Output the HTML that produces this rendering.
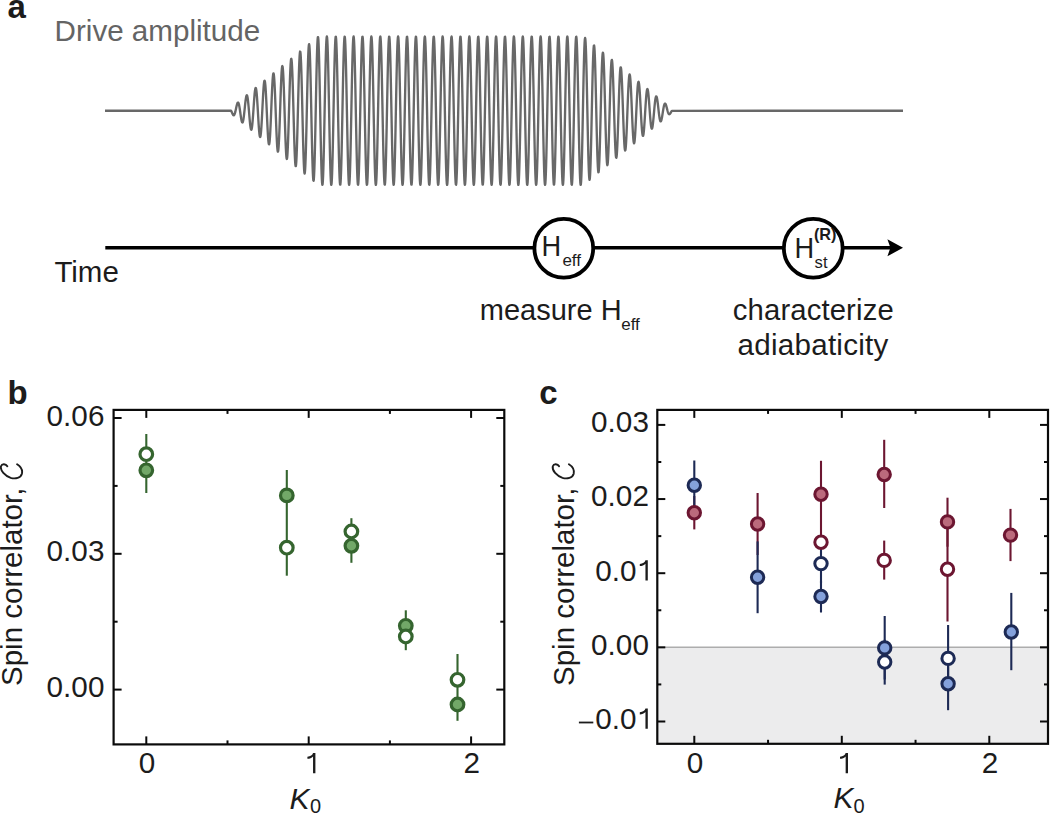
<!DOCTYPE html>
<html><head><meta charset="utf-8"><title>Figure</title>
<style>html,body{margin:0;padding:0;background:#fff;}body{width:1050px;height:814px;overflow:hidden;font-family:"Liberation Sans", sans-serif;}svg{display:block;}</style>
</head><body>
<svg width="1050" height="814" viewBox="0 0 1050 814" font-family='"Liberation Sans", sans-serif'><text x="7.6" y="18.2" font-size="33" font-weight="bold" fill="#1c1c1c">a</text>
<text x="54.6" y="41.4" font-size="29.6" fill="#646464">Drive amplitude</text>
<polyline points="105.00,110.70 231.10,110.70 231.35,111.15 231.60,111.70 231.85,112.28 232.10,112.88 232.35,113.46 232.60,114.01 232.85,114.49 233.10,114.88 233.35,115.14 233.60,115.28 233.85,115.25 234.10,115.06 234.35,114.70 234.60,114.17 234.85,113.47 235.10,112.63 235.35,111.66 235.60,110.58 235.85,109.44 236.10,108.27 236.35,107.10 236.60,105.99 236.85,104.97 237.10,104.08 237.35,103.36 237.60,102.85 237.85,102.57 238.10,102.55 238.35,102.79 238.60,103.31 238.85,104.09 239.10,105.13 239.35,106.40 239.60,107.86 239.85,109.49 240.10,111.22 240.35,113.00 240.60,114.79 240.85,116.51 241.10,118.12 241.35,119.55 241.60,120.74 241.85,121.66 242.10,122.25 242.35,122.50 242.60,122.37 242.85,121.87 243.10,120.98 243.35,119.74 243.60,118.17 243.85,116.31 244.10,114.21 244.35,111.93 244.60,109.54 244.85,107.11 245.10,104.73 245.35,102.47 245.60,100.40 245.85,98.60 246.10,97.14 246.35,96.07 246.60,95.43 246.85,95.26 247.10,95.58 247.35,96.39 247.60,97.67 247.85,99.40 248.10,101.53 248.35,104.01 248.60,106.76 248.85,109.70 249.10,112.75 249.35,115.80 249.60,118.76 249.85,121.54 250.10,124.04 250.35,126.17 250.60,127.86 250.85,129.05 251.10,129.68 251.35,129.73 251.60,129.18 251.85,128.03 252.10,126.31 252.35,124.06 252.60,121.35 252.85,118.24 253.10,114.83 253.35,111.22 253.60,107.53 253.85,103.86 254.10,100.33 254.35,97.07 254.60,94.17 254.85,91.74 255.10,89.86 255.35,88.60 255.60,88.01 255.85,88.13 256.10,88.96 256.35,90.48 256.60,92.67 256.85,95.47 257.10,98.79 257.35,102.55 257.60,106.63 257.85,110.90 258.10,115.24 258.35,119.51 258.60,123.57 258.85,127.30 259.10,130.56 259.35,133.26 259.60,135.29 259.85,136.57 260.10,137.07 260.35,136.75 260.60,135.60 260.85,133.66 261.10,130.97 261.35,127.59 261.60,123.64 261.85,119.22 262.10,114.47 262.35,109.54 262.60,104.56 262.85,99.71 263.10,95.13 263.35,90.97 263.60,87.37 263.85,84.46 264.10,82.32 264.35,81.04 264.60,80.68 264.85,81.25 265.10,82.75 265.35,85.15 265.60,88.38 265.85,92.35 266.10,96.95 266.35,102.04 266.60,107.47 266.85,113.07 267.10,118.67 267.35,124.09 267.60,129.16 267.85,133.72 268.10,137.61 268.35,140.71 268.60,142.91 268.85,144.13 269.10,144.32 269.35,143.46 269.60,141.56 269.85,138.67 270.10,134.88 270.35,130.28 270.60,125.02 270.85,119.24 271.10,113.13 271.35,106.88 271.60,100.67 271.85,94.70 272.10,89.17 272.35,84.24 272.60,80.09 272.85,76.84 273.10,74.62 273.35,73.51 273.60,73.54 273.85,74.73 274.10,77.06 274.35,80.47 274.60,84.86 274.85,90.11 275.10,96.05 275.35,102.52 275.60,109.31 275.85,116.21 276.10,123.02 276.35,129.51 276.60,135.48 276.85,140.74 277.10,145.11 277.35,148.46 277.60,150.65 277.85,151.63 278.10,151.33 278.35,149.76 278.60,146.96 278.85,143.00 279.10,137.99 279.35,132.07 279.60,125.44 279.85,118.27 280.10,110.81 280.35,103.26 280.60,95.88 280.85,88.89 281.10,82.51 281.35,76.95 281.60,72.40 281.85,69.00 282.10,66.86 282.35,66.08 282.60,66.68 282.85,68.66 283.10,71.97 283.35,76.52 283.60,82.18 283.85,88.78 284.10,96.12 284.35,103.98 284.60,112.13 284.85,120.30 285.10,128.24 285.35,135.70 285.60,142.45 285.85,148.27 286.10,152.97 286.35,156.39 286.60,158.41 286.85,158.96 287.10,158.01 287.35,155.58 287.60,151.72 287.85,146.56 288.10,140.23 288.35,132.93 288.60,124.87 288.85,116.31 289.10,107.50 289.35,98.72 289.60,90.24 289.85,82.33 290.10,75.23 290.35,69.19 290.60,64.40 290.85,61.01 291.10,59.14 291.35,58.86 291.60,60.20 291.85,63.13 292.10,67.56 292.35,73.37 292.60,80.39 292.85,88.41 293.10,97.18 293.35,106.45 293.60,115.92 293.85,125.29 294.10,134.29 294.35,142.62 294.60,150.01 294.85,156.24 295.10,161.09 295.35,164.41 295.60,166.08 295.85,166.04 296.10,164.27 296.35,160.81 296.60,155.77 296.85,149.29 297.10,141.56 297.35,132.81 297.60,123.31 297.85,113.35 298.10,103.23 298.35,93.27 298.60,83.79 298.85,75.08 299.10,67.41 299.35,61.04 299.60,56.17 299.85,52.97 300.10,51.55 300.35,51.95 300.60,54.19 300.85,58.21 301.10,63.89 301.35,71.07 301.60,79.53 301.85,89.02 302.10,99.25 302.35,109.90 302.60,120.66 302.85,131.17 303.10,141.12 303.35,150.18 303.60,158.08 303.85,164.55 304.10,169.39 304.35,172.43 304.60,173.57 304.85,172.76 305.10,170.01 305.35,165.39 305.60,159.04 305.85,151.14 306.10,141.94 306.35,131.70 306.60,120.74 306.85,109.40 307.10,98.03 307.35,86.98 307.60,76.60 307.85,67.21 308.10,59.12 308.35,52.59 308.60,47.83 308.85,44.99 309.10,44.18 309.35,45.44 309.60,48.74 309.85,53.99 310.10,61.04 310.35,69.68 310.60,79.65 310.85,90.64 311.10,102.33 311.35,114.34 311.60,126.32 311.85,137.88 312.10,148.66 312.35,158.33 312.60,166.57 312.85,173.12 313.10,177.76 313.35,180.35 313.60,180.78 313.85,179.03 314.10,175.14 314.35,169.23 314.60,161.46 314.85,152.06 315.10,141.32 315.35,129.57 315.60,117.16 315.85,104.48 316.10,91.92 316.35,79.87 316.60,68.72 316.85,58.81 317.10,50.45 317.35,43.93 317.60,39.45 317.85,37.16 318.10,37.15 318.35,39.43 318.60,44.07 318.85,50.84 319.10,59.46 319.35,69.67 319.60,81.15 319.85,93.56 320.10,106.49 320.35,119.55 320.60,132.34 320.85,144.46 321.10,155.53 321.35,165.21 321.60,173.20 321.85,179.24 322.10,183.17 322.35,184.84 322.60,184.21 322.85,181.31 323.10,176.21 323.35,169.08 323.60,160.13 323.85,149.66 324.10,137.97 324.35,125.44 324.60,112.45 324.85,99.41 325.10,86.72 325.35,74.77 325.60,63.94 325.85,54.55 326.10,46.91 326.35,41.25 326.60,37.74 326.85,36.50 327.10,37.56 327.35,40.89 327.60,46.38 327.85,53.87 328.10,63.13 328.35,73.86 328.60,85.73 328.85,98.38 329.10,111.41 329.35,124.41 329.60,137.00 329.85,148.76 330.10,159.35 330.35,168.42 330.60,175.71 330.85,180.98 331.10,184.06 331.35,184.87 331.60,183.38 331.85,179.64 332.10,173.75 332.35,165.91 332.60,156.36 332.85,145.39 333.10,133.34 333.35,120.59 333.60,107.53 333.85,94.58 334.10,82.12 334.35,70.55 334.60,60.22 334.85,51.46 335.10,44.54 335.35,39.67 335.60,37.01 335.85,36.63 336.10,38.55 336.35,42.71 336.60,48.98 336.85,57.16 337.10,67.01 337.35,78.21 337.60,90.41 337.85,103.25 338.10,116.32 338.35,129.22 338.60,141.54 338.85,152.90 339.10,162.95 339.35,171.39 339.60,177.94 339.85,182.40 340.10,184.64 340.35,184.58 340.60,182.24 340.85,177.67 341.10,171.02 341.35,162.51 341.60,152.38 341.85,140.96 342.10,128.61 342.35,115.70 342.60,102.63 342.85,89.81 343.10,77.64 343.35,66.50 343.60,56.73 343.85,48.63 344.10,42.46 344.35,38.41 344.60,36.60 344.85,37.08 345.10,39.86 345.35,44.83 345.60,51.84 345.85,60.68 346.10,71.08 346.35,82.70 346.60,95.19 346.85,108.16 347.10,121.21 347.35,133.94 347.60,145.94 347.85,156.85 348.10,166.33 348.35,174.08 348.60,179.87 348.85,183.51 349.10,184.89 349.35,183.97 349.60,180.77 349.85,175.40 350.10,168.03 350.35,158.87 350.60,148.22 350.85,136.41 351.10,123.80 351.35,110.78 351.60,97.76 351.85,85.14 352.10,73.31 352.35,62.65 352.60,53.47 352.85,46.07 353.10,40.68 353.35,37.46 353.60,36.51 353.85,37.86 354.10,41.48 354.35,47.24 354.60,54.97 354.85,64.43 355.10,75.32 355.35,87.31 355.60,100.03 355.85,113.08 356.10,126.06 356.35,138.56 356.60,150.19 356.85,160.60 357.10,169.46 357.35,176.50 357.60,181.50 357.85,184.30 358.10,184.81 358.35,183.03 358.60,179.00 358.85,172.85 359.10,164.78 359.35,155.03 359.60,143.90 359.85,131.74 360.10,118.93 360.35,105.86 360.60,92.94 360.85,80.58 361.10,69.15 361.35,59.01 361.60,50.47 361.85,43.80 362.10,39.21 362.35,36.83 362.60,36.75 362.85,38.96 363.10,43.40 363.35,49.92 363.60,58.33 363.85,68.37 364.10,79.72 364.35,92.03 364.60,104.92 364.85,117.99 365.10,130.83 365.35,143.05 365.60,154.27 365.85,164.13 366.10,172.33 366.35,178.63 366.60,182.81 366.85,184.76 367.10,184.41 367.35,181.77 367.60,176.93 367.85,170.03 368.10,161.29 368.35,150.99 368.60,139.43 368.85,126.98 369.10,114.02 369.35,100.97 369.60,88.21 369.85,76.15 370.10,65.17 370.35,55.59 370.60,47.73 370.85,41.82 371.10,38.05 371.35,36.53 371.60,37.31 371.85,40.37 372.10,45.62 372.35,52.88 372.60,61.93 372.85,72.50 373.10,84.26 373.35,96.83 373.60,109.84 373.85,122.87 374.10,135.52 374.35,147.41 374.60,158.15 374.85,167.42 375.10,174.94 375.35,180.46 375.60,183.81 375.85,184.90 376.10,183.68 376.35,180.20 376.60,174.57 376.85,166.95 377.10,157.59 377.35,146.77 377.60,134.83 377.85,122.14 378.10,109.10 378.35,96.11 378.60,83.57 378.85,71.88 379.10,61.38 379.35,52.42 379.60,45.27 379.85,40.14 380.10,37.21 380.35,36.55 380.60,38.20 380.85,42.10 381.10,48.12 381.35,56.09 381.60,65.75 381.85,76.80 382.10,88.91 382.35,101.69 382.60,114.75 382.85,127.69 383.10,140.10 383.35,151.60 383.60,161.83 383.85,170.47 384.10,177.26 384.35,181.98 384.60,184.49 384.85,184.71 385.10,182.64 385.35,178.33 385.60,171.92 385.85,163.62 386.10,153.67 386.35,142.39 386.60,130.13 386.85,117.26 387.10,104.19 387.35,91.32 387.60,79.06 387.85,67.77 388.10,57.82 388.35,49.51 388.60,43.09 388.85,38.78 389.10,36.69 389.35,36.90 389.60,39.41 389.85,44.12 390.10,50.90 390.35,59.53 390.60,69.76 390.85,81.25 391.10,93.66 391.35,106.59 391.60,119.66 391.85,132.44 392.10,144.55 392.35,155.61 392.60,165.28 392.85,173.25 393.10,179.28 393.35,183.19 393.60,184.84 393.85,184.20 394.10,181.27 394.35,176.16 394.60,169.01 394.85,160.06 395.10,149.57 395.35,137.88 395.60,125.34 395.85,112.35 396.10,99.31 396.35,86.62 396.60,74.68 396.85,63.85 397.10,54.48 397.35,46.86 397.60,41.21 397.85,37.73 398.10,36.50 398.35,37.58 398.60,40.93 398.85,46.44 399.10,53.94 399.35,63.21 399.60,73.95 399.85,85.83 400.10,98.48 400.35,111.51 400.60,124.52 400.85,137.09 401.10,148.85 401.35,159.43 401.60,168.49 401.85,175.76 402.10,181.01 402.35,184.08 402.60,184.87 402.85,183.36 403.10,179.60 403.35,173.70 403.60,165.84 403.85,156.28 404.10,145.29 404.35,133.24 404.60,120.49 404.85,107.43 405.10,94.47 405.35,82.02 405.60,70.46 405.85,60.14 406.10,51.40 406.35,44.49 406.60,39.64 406.85,37.00 407.10,36.64 407.35,38.57 407.60,42.75 407.85,49.04 408.10,57.23 408.35,67.09 408.60,78.30 408.85,90.52 409.10,103.36 409.35,116.43 409.60,129.32 409.85,141.63 410.10,152.99 410.35,163.03 410.60,171.45 410.85,177.98 411.10,182.43 411.35,184.65 411.60,184.57 411.85,182.21 412.10,177.62 412.35,170.96 412.60,162.43 412.85,152.30 413.10,140.87 413.35,128.51 413.60,115.59 413.85,102.52 414.10,89.71 414.35,77.55 414.60,66.42 414.85,56.66 415.10,48.57 415.35,42.42 415.60,38.38 415.85,36.59 416.10,37.10 416.35,39.89 416.60,44.88 416.85,51.91 417.10,60.76 417.35,71.16 417.60,82.80 417.85,95.29 418.10,108.27 418.35,121.32 418.60,134.04 418.85,146.03 419.10,156.93 419.35,166.40 419.60,174.14 419.85,179.91 420.10,183.53 420.35,184.89 420.60,183.95 420.85,180.74 421.10,175.35 421.35,167.96 421.60,158.79 421.85,148.13 422.10,136.31 422.35,123.69 422.60,110.67 422.85,97.65 423.10,85.04 423.35,73.22 423.60,62.57 423.85,53.41 424.10,46.02 424.35,40.64 424.60,37.44 424.85,36.51 425.10,37.88 425.35,41.51 425.60,47.29 425.85,55.04 426.10,64.51 426.35,75.41 426.60,87.41 426.85,100.14 427.10,113.19 427.35,126.16 427.60,138.65 427.85,150.28 428.10,160.68 428.35,169.53 428.60,176.55 428.85,181.53 429.10,184.31 429.35,184.81 429.60,183.01 429.85,178.96 430.10,172.80 430.35,164.71 430.60,154.94 430.85,143.80 431.10,131.64 431.35,118.82 431.60,105.76 431.85,92.84 432.10,80.48 432.35,69.06 432.60,58.93 432.85,50.41 433.10,43.75 433.35,39.18 433.60,36.82 433.85,36.76 434.10,38.99 434.35,43.44 434.60,49.98 434.85,58.41 435.10,68.46 435.35,79.82 435.60,92.13 435.85,105.03 436.10,118.09 436.35,130.93 436.60,143.15 436.85,154.35 437.10,164.20 437.35,172.39 437.60,178.67 437.85,182.84 438.10,184.77 438.35,184.40 438.60,181.74 438.85,176.88 439.10,169.97 439.35,161.22 439.60,150.90 439.85,139.33 440.10,126.88 440.35,113.92 440.60,100.86 440.85,88.11 441.10,76.06 441.35,65.08 441.60,55.52 441.85,47.67 442.10,41.78 442.35,38.03 442.60,36.53 442.85,37.33 443.10,40.41 443.35,45.67 443.60,52.94 443.85,62.01 444.10,72.59 444.35,84.35 444.60,96.93 444.85,109.94 445.10,122.97 445.35,135.62 445.60,147.50 445.85,158.23 446.10,167.49 446.35,174.99 446.60,180.49 446.85,183.83 447.10,184.90 447.35,183.66 447.60,180.17 447.85,174.51 448.10,166.88 448.35,157.50 448.60,146.68 448.85,134.73 449.10,122.04 449.35,109.00 449.60,96.01 449.85,83.48 450.10,71.79 450.35,61.31 450.60,52.36 450.85,45.22 451.10,40.11 451.35,37.19 451.60,36.56 451.85,38.22 452.10,42.14 452.35,48.18 452.60,56.16 452.85,65.83 453.10,76.90 453.35,89.01 453.60,101.80 453.85,114.86 454.10,127.79 454.35,140.20 454.60,151.69 454.85,161.90 455.10,170.53 455.35,177.30 455.60,182.01 455.85,184.50 456.10,184.70 456.35,182.61 456.60,178.29 456.85,171.86 457.10,163.55 457.35,153.59 457.60,142.30 457.85,130.03 458.10,117.16 458.35,104.09 458.60,91.22 458.85,78.96 459.10,67.69 459.35,57.74 459.60,49.45 459.85,43.05 460.10,38.75 460.35,36.68 460.60,36.92 460.85,39.43 461.10,44.17 461.35,50.96 461.60,59.61 461.85,69.84 462.10,81.35 462.35,93.76 462.60,106.70 462.85,119.76 463.10,132.54 463.35,144.64 463.60,155.70 463.85,165.35 464.10,173.31 464.35,179.32 464.60,183.21 464.85,184.85 465.10,184.18 465.35,181.24 465.60,176.11 465.85,168.95 466.10,159.98 466.35,149.48 466.60,137.78 466.85,125.24 467.10,112.24 467.35,99.20 467.60,86.52 467.85,74.59 468.10,63.77 468.35,54.42 468.60,46.81 468.85,41.18 469.10,37.71 469.35,36.50 469.60,37.60 469.85,40.96 470.10,46.49 470.35,54.01 470.60,63.29 470.85,74.04 471.10,85.93 471.35,98.58 471.60,111.62 471.85,124.62 472.10,137.19 472.35,148.94 472.60,159.51 472.85,168.56 473.10,175.81 473.35,181.04 473.60,184.09 473.85,184.87 474.10,183.34 474.35,179.56 474.60,173.64 474.85,165.77 475.10,156.19 475.35,145.20 475.60,133.14 475.85,120.38 476.10,107.32 476.35,94.37 476.60,81.92 476.85,70.37 477.10,60.07 477.35,51.34 477.60,44.45 477.85,39.61 478.10,36.98 478.35,36.64 478.60,38.60 478.85,42.79 479.10,49.09 479.35,57.31 479.60,67.18 479.85,78.39 480.10,90.62 480.35,103.46 480.60,116.53 480.85,129.42 481.10,141.73 481.35,153.07 481.60,163.10 481.85,171.51 482.10,178.02 482.35,182.45 482.60,184.66 482.85,184.56 483.10,182.18 483.35,177.58 483.60,170.90 483.85,162.36 484.10,152.21 484.35,140.77 484.60,128.40 484.85,115.49 485.10,102.42 485.35,89.61 485.60,77.46 485.85,66.33 486.10,56.58 486.35,48.52 486.60,42.38 486.85,38.36 487.10,36.59 487.35,37.11 487.60,39.92 487.85,44.92 488.10,51.97 488.35,60.84 488.60,71.25 488.85,82.89 489.10,95.39 489.35,108.37 489.60,121.42 489.85,134.14 490.10,146.13 490.35,157.02 490.60,166.47 490.85,174.19 491.10,179.94 491.35,183.55 491.60,184.89 491.85,183.93 492.10,180.70 492.35,175.30 492.60,167.89 492.85,158.71 493.10,148.04 493.35,136.21 493.60,123.59 493.85,110.57 494.10,97.55 494.35,84.94 494.60,73.13 494.85,62.49 495.10,53.34 495.35,45.97 495.60,40.61 495.85,37.42 496.10,36.51 496.35,37.90 496.60,41.55 496.85,47.34 497.10,55.10 497.35,64.59 497.60,75.50 497.85,87.51 498.10,100.24 498.35,113.29 498.60,126.26 498.85,138.75 499.10,150.37 499.35,160.76 499.60,169.59 499.85,176.60 500.10,181.56 500.35,184.32 500.60,184.80 500.85,182.98 501.10,178.92 501.35,172.74 501.60,164.64 501.85,154.86 502.10,143.71 502.35,131.54 502.60,118.72 502.85,105.65 503.10,92.74 503.35,80.39 503.60,68.97 503.85,58.86 504.10,50.35 504.35,43.71 504.60,39.15 504.85,36.81 505.10,36.77 505.35,39.01 505.60,43.49 505.85,50.04 506.10,58.48 506.35,68.54 506.60,79.91 506.85,92.23 507.10,105.13 507.35,118.20 507.60,131.04 507.85,143.24 508.10,154.44 508.35,164.28 508.60,172.45 508.85,178.71 509.10,182.86 509.35,184.77 509.60,184.39 509.85,181.71 510.10,176.84 510.35,169.91 510.60,161.14 510.85,150.81 511.10,139.23 511.35,126.77 511.60,113.81 511.85,100.76 512.10,88.01 512.35,75.97 512.60,65.00 512.85,55.45 513.10,47.62 513.35,41.74 513.60,38.01 513.85,36.52 514.10,37.34 514.35,40.44 514.60,45.72 514.85,53.01 515.10,62.09 515.35,72.68 515.60,84.45 515.85,97.04 516.10,110.05 516.35,123.07 516.60,135.72 516.85,147.59 517.10,158.31 517.35,167.56 517.60,175.04 517.85,180.53 518.10,183.85 518.35,184.90 518.60,183.65 518.85,180.13 519.10,174.46 519.35,166.81 519.60,157.42 519.85,146.58 520.10,134.63 520.35,121.94 520.60,108.89 520.85,95.91 521.10,83.38 521.35,71.70 521.60,61.23 521.85,52.29 522.10,45.17 522.35,40.08 522.60,37.18 522.85,36.56 523.10,38.24 523.35,42.18 523.60,48.23 523.85,56.23 524.10,65.91 524.35,76.99 524.60,89.11 524.85,101.90 525.10,114.96 525.35,127.90 525.60,140.29 525.85,151.77 526.10,161.98 526.35,170.59 526.60,177.35 526.85,182.04 527.10,184.51 527.35,184.70 527.60,182.58 527.85,178.24 528.10,171.81 528.35,163.47 528.60,153.50 528.85,142.20 529.10,129.93 529.35,117.05 529.60,103.98 529.85,91.12 530.10,78.87 530.35,67.60 530.60,57.67 530.85,49.39 531.10,43.01 531.35,38.73 531.60,36.68 531.85,36.93 532.10,39.46 532.35,44.21 532.60,51.02 532.85,59.69 533.10,69.93 533.35,81.44 533.60,93.86 533.85,106.80 534.10,119.86 534.35,132.64 534.60,144.74 534.85,155.78 535.10,165.42 535.35,173.36 535.60,179.36 535.85,183.23 536.10,184.85 536.35,184.17 536.60,181.21 536.85,176.06 537.10,168.88 537.35,159.90 537.60,149.39 537.85,137.68 538.10,125.13 538.35,112.14 538.60,99.10 538.85,86.42 539.10,74.50 539.35,63.69 539.60,54.35 539.85,46.75 540.10,41.14 540.35,37.69 540.60,36.50 540.85,37.61 541.10,41.00 541.35,46.54 541.60,54.08 541.85,63.37 542.10,74.13 542.35,86.03 542.60,98.69 542.85,111.72 543.10,124.72 543.35,137.29 543.60,149.03 543.85,159.58 544.10,168.62 544.35,175.86 544.60,181.08 544.85,184.11 545.10,184.87 545.35,183.32 545.60,179.52 545.85,173.59 546.10,165.70 546.35,156.11 546.60,145.11 546.85,133.04 547.10,120.28 547.35,107.22 547.60,94.27 547.85,81.83 548.10,70.28 548.35,59.99 548.60,51.27 548.85,44.40 549.10,39.58 549.35,36.97 549.60,36.65 549.85,38.62 550.10,42.84 550.35,49.15 550.60,57.38 550.85,67.26 551.10,78.49 551.35,90.72 551.60,103.57 551.85,116.64 552.10,129.52 552.35,141.82 552.60,153.16 552.85,163.18 553.10,171.57 553.35,178.07 553.60,182.48 553.85,184.66 554.10,184.55 554.35,182.15 554.60,177.53 554.85,170.84 555.10,162.28 555.35,152.12 555.60,140.68 555.85,128.30 556.10,115.38 556.35,102.32 556.60,89.51 556.85,77.36 557.10,66.25 557.35,56.51 557.60,48.46 557.85,42.34 558.10,38.34 558.35,36.58 558.60,37.12 558.85,39.95 559.10,44.97 559.35,52.03 559.60,60.92 559.85,71.34 560.10,82.99 560.35,95.50 560.60,108.48 560.85,121.52 561.10,134.24 561.35,146.22 561.60,157.10 561.85,166.54 562.10,174.25 562.35,179.98 562.60,183.57 562.85,184.89 563.10,183.92 563.35,180.67 563.60,175.25 563.85,167.83 564.10,158.63 564.35,147.95 564.60,136.11 564.85,123.49 565.10,110.46 565.35,97.45 565.60,84.84 565.85,73.04 566.10,62.41 566.35,53.27 566.60,45.92 566.85,40.58 567.10,37.41 567.35,36.51 567.60,37.92 567.85,41.59 568.10,47.40 568.35,55.17 568.60,64.67 568.85,75.60 569.10,87.61 569.35,100.34 569.60,113.40 569.85,126.36 570.10,138.85 570.35,150.46 570.60,160.83 570.85,169.65 571.10,176.64 571.35,181.59 571.60,184.34 571.85,184.80 572.10,182.96 572.35,178.88 572.60,172.68 572.85,164.56 573.10,154.77 573.35,143.62 573.60,131.44 573.85,118.62 574.10,105.55 574.35,92.64 574.60,80.29 574.85,68.89 575.10,58.78 575.35,50.29 575.60,43.66 575.85,39.12 576.10,36.80 576.35,36.77 576.60,39.04 576.85,43.53 577.10,50.10 577.35,58.56 577.60,68.63 577.85,80.01 578.10,92.34 578.35,105.23 578.60,118.30 578.85,131.14 579.10,143.33 579.35,154.52 579.60,164.35 579.85,172.51 580.10,178.75 580.35,182.89 580.60,184.78 580.85,184.37 581.10,181.68 581.35,176.79 581.60,169.84 581.85,161.06 582.10,150.72 582.35,139.14 582.60,126.67 582.85,113.71 583.10,100.65 583.35,87.91 583.60,75.97 583.85,65.18 584.10,55.85 584.35,48.27 584.60,42.66 584.85,39.20 585.10,37.96 585.35,38.99 585.60,42.23 585.85,47.57 586.10,54.83 586.35,63.78 586.60,74.14 586.85,85.56 587.10,97.70 587.35,110.17 587.60,122.59 587.85,134.57 588.10,145.73 588.35,155.75 588.60,164.32 588.85,171.17 589.10,176.12 589.35,179.01 589.60,179.77 589.85,178.38 590.10,174.91 590.35,169.47 590.60,162.25 590.85,153.47 591.10,143.42 591.35,132.42 591.60,120.82 591.85,108.97 592.10,97.25 592.35,86.01 592.60,75.61 592.85,66.36 593.10,58.53 593.35,52.37 593.60,48.06 593.85,45.71 594.10,45.38 594.35,47.08 594.60,50.74 594.85,56.23 595.10,63.37 595.35,71.93 595.60,81.64 595.85,92.18 596.10,103.23 596.35,114.44 596.60,125.46 596.85,135.96 597.10,145.60 597.35,154.10 597.60,161.21 597.85,166.70 598.10,170.43 598.35,172.28 598.60,172.21 598.85,170.24 599.10,166.44 599.35,160.95 599.60,153.93 599.85,145.62 600.10,136.29 600.35,126.23 600.60,115.76 600.85,105.20 601.10,94.88 601.35,85.13 601.60,76.23 601.85,68.46 602.10,62.05 602.35,57.19 602.60,54.02 602.85,52.63 603.10,53.04 603.35,55.24 603.60,59.13 603.85,64.60 604.10,71.45 604.35,79.46 604.60,88.39 604.85,97.94 605.10,107.82 605.35,117.71 605.60,127.32 605.85,136.34 606.10,144.50 606.35,151.56 606.60,157.30 606.85,161.55 607.10,164.21 607.35,165.18 607.60,164.46 607.85,162.09 608.10,158.14 608.35,152.75 608.60,146.11 608.85,138.42 609.10,129.93 609.35,120.91 609.60,111.65 609.85,102.43 610.10,93.53 610.35,85.24 610.60,77.80 610.85,71.43 611.10,66.33 611.35,62.65 611.60,60.48 611.85,59.88 612.10,60.85 612.35,63.37 612.60,67.32 612.85,72.59 613.10,78.99 613.35,86.32 613.60,94.34 613.85,102.81 614.10,111.44 614.35,119.99 614.60,128.17 614.85,135.74 615.10,142.48 615.35,148.17 615.60,152.66 615.85,155.81 616.10,157.54 616.35,157.81 616.60,156.62 616.85,154.01 617.10,150.09 617.35,144.99 617.60,138.87 617.85,131.93 618.10,124.40 618.35,116.51 618.60,108.51 618.85,100.65 619.10,93.18 619.35,86.31 619.60,80.26 619.85,75.21 620.10,71.30 620.35,68.65 620.60,67.32 620.85,67.35 621.10,68.71 621.35,71.37 621.60,75.21 621.85,80.11 622.10,85.92 622.35,92.43 622.60,99.44 622.85,106.74 623.10,114.09 623.35,121.26 623.60,128.03 623.85,134.20 624.10,139.58 624.35,144.02 624.60,147.38 624.85,149.57 625.10,150.54 625.35,150.26 625.60,148.77 625.85,146.11 626.10,142.39 626.35,137.73 626.60,132.27 626.85,126.21 627.10,119.74 627.35,113.05 627.60,106.36 627.85,99.88 628.10,93.80 628.35,88.32 628.60,83.58 628.85,79.73 629.10,76.89 629.35,75.12 629.60,74.47 629.85,74.95 630.10,76.53 630.35,79.14 630.60,82.70 630.85,87.09 631.10,92.16 631.35,97.74 631.60,103.65 631.85,109.72 632.10,115.74 632.35,121.53 632.60,126.92 632.85,131.75 633.10,135.86 633.35,139.15 633.60,141.52 633.85,142.90 634.10,143.28 634.35,142.64 634.60,141.02 634.85,138.48 635.10,135.12 635.35,131.05 635.60,126.40 635.85,121.33 636.10,115.99 636.35,110.56 636.60,105.21 636.85,100.09 637.10,95.38 637.35,91.20 637.60,87.68 637.85,84.92 638.10,83.00 638.35,81.96 638.60,81.82 638.85,82.57 639.10,84.19 639.35,86.60 639.60,89.72 639.85,93.45 640.10,97.65 640.35,102.19 640.60,106.93 640.85,111.72 641.10,116.40 641.35,120.84 641.60,124.89 641.85,128.44 642.10,131.39 642.35,133.66 642.60,135.18 642.85,135.91 643.10,135.86 643.35,135.03 643.60,133.46 643.85,131.22 644.10,128.37 644.35,125.03 644.60,121.30 644.85,117.31 645.10,113.18 645.35,109.05 645.60,105.03 645.85,101.27 646.10,97.86 646.35,94.91 646.60,92.50 646.85,90.70 647.10,89.55 647.35,89.07 647.60,89.27 647.85,90.13 648.10,91.61 648.35,93.65 648.60,96.18 648.85,99.11 649.10,102.34 649.35,105.76 649.60,109.26 649.85,112.74 650.10,116.09 650.35,119.19 650.60,121.97 650.85,124.34 651.10,126.24 651.35,127.62 651.60,128.44 651.85,128.70 652.10,128.39 652.35,127.54 652.60,126.19 652.85,124.40 653.10,122.22 653.35,119.74 653.60,117.04 653.85,114.20 654.10,111.33 654.35,108.52 654.60,105.84 654.85,103.38 655.10,101.21 655.35,99.39 655.60,97.97 655.85,96.98 656.10,96.45 656.35,96.37 656.60,96.74 656.85,97.53 657.10,98.70 657.35,100.22 657.60,102.01 657.85,104.02 658.10,106.17 658.35,108.40 658.60,110.63 658.85,112.78 659.10,114.80 659.35,116.63 659.60,118.21 659.85,119.50 660.10,120.48 660.35,121.11 660.60,121.40 660.85,121.34 661.10,120.96 661.35,120.26 661.60,119.30 661.85,118.11 662.10,116.74 662.35,115.23 662.60,113.65 662.85,112.04 663.10,110.46 663.35,108.96 663.60,107.59 663.85,106.38 664.10,105.36 664.35,104.57 664.60,104.01 664.85,103.69 665.10,103.60 665.35,103.75 665.60,104.11 665.85,104.66 666.10,105.37 666.35,106.21 666.60,107.14 666.85,108.11 667.10,109.11 667.35,110.08 667.60,111.01 667.85,111.85 668.10,112.59 668.35,113.20 668.60,113.67 668.85,114.00 669.10,114.19 669.35,114.23 669.60,114.15 669.85,113.95 670.10,113.66 670.35,113.29 670.60,112.88 670.85,112.43 671.10,111.99 671.35,111.56 671.60,111.17 671.85,110.83 903.00,110.70" fill="none" stroke="#686868" stroke-width="2.35" stroke-linejoin="round"/>
<line x1="105.3" y1="247.8" x2="891" y2="247.8" stroke="#000" stroke-width="3.6"/>
<path d="M903 247.8 L887.4 239.3 L890.4 247.8 L887.4 256.3 Z" fill="#000"/>
<text x="54.4" y="281.9" font-size="29.5" fill="#1c1c1c">Time</text>
<circle cx="563.8" cy="248.3" r="29.4" fill="#fff" stroke="#000" stroke-width="3.8"/>
<circle cx="813.25" cy="248.3" r="29.4" fill="#fff" stroke="#000" stroke-width="3.8"/>
<text transform="translate(541.6,256.2) scale(0.915,1)" font-size="29.7" fill="#1c1c1c">H</text>
<text x="562.4" y="266" font-size="17" fill="#1c1c1c">eff</text>
<text transform="translate(794.6,257.8) scale(0.915,1)" font-size="29.7" fill="#1c1c1c">H</text>
<text x="814.6" y="268.2" font-size="16.6" fill="#1c1c1c">st</text>
<text x="813.9" y="240.4" font-size="16.3" font-weight="bold" fill="#1c1c1c">(R)</text>
<text x="479.8" y="319.5" font-size="29" fill="#1c1c1c">measure H</text>
<text x="621.2" y="329.6" font-size="17" fill="#1c1c1c">eff</text>
<text x="732.8" y="319.8" font-size="29.3" letter-spacing="0.12" fill="#1c1c1c">characterize</text>
<text x="737.6" y="355.4" font-size="29.6" letter-spacing="0.24" fill="#1c1c1c">adiabaticity</text>
<text x="7.6" y="404" font-size="33" font-weight="bold" fill="#1c1c1c">b</text>
<rect x="113.6" y="409.9" width="390.70000000000005" height="334.5" fill="none" stroke="#0a0a0a" stroke-width="2.2"/>
<line x1="113.6" y1="418.00" x2="121.6" y2="418.00" stroke="#0a0a0a" stroke-width="2"/>
<line x1="504.3" y1="418.00" x2="496.3" y2="418.00" stroke="#0a0a0a" stroke-width="2"/>
<line x1="113.6" y1="553.80" x2="121.6" y2="553.80" stroke="#0a0a0a" stroke-width="2"/>
<line x1="504.3" y1="553.80" x2="496.3" y2="553.80" stroke="#0a0a0a" stroke-width="2"/>
<line x1="113.6" y1="689.60" x2="121.6" y2="689.60" stroke="#0a0a0a" stroke-width="2"/>
<line x1="504.3" y1="689.60" x2="496.3" y2="689.60" stroke="#0a0a0a" stroke-width="2"/>
<line x1="113.6" y1="485.90" x2="117.6" y2="485.90" stroke="#0a0a0a" stroke-width="2"/>
<line x1="504.3" y1="485.90" x2="500.3" y2="485.90" stroke="#0a0a0a" stroke-width="2"/>
<line x1="113.6" y1="621.70" x2="117.6" y2="621.70" stroke="#0a0a0a" stroke-width="2"/>
<line x1="504.3" y1="621.70" x2="500.3" y2="621.70" stroke="#0a0a0a" stroke-width="2"/>
<line x1="146.30" y1="409.9" x2="146.30" y2="417.9" stroke="#0a0a0a" stroke-width="2"/>
<line x1="146.30" y1="744.4" x2="146.30" y2="736.4" stroke="#0a0a0a" stroke-width="2"/>
<line x1="308.70" y1="409.9" x2="308.70" y2="417.9" stroke="#0a0a0a" stroke-width="2"/>
<line x1="308.70" y1="744.4" x2="308.70" y2="736.4" stroke="#0a0a0a" stroke-width="2"/>
<line x1="471.10" y1="409.9" x2="471.10" y2="417.9" stroke="#0a0a0a" stroke-width="2"/>
<line x1="471.10" y1="744.4" x2="471.10" y2="736.4" stroke="#0a0a0a" stroke-width="2"/>
<line x1="227.50" y1="409.9" x2="227.50" y2="413.9" stroke="#0a0a0a" stroke-width="2"/>
<line x1="227.50" y1="744.4" x2="227.50" y2="740.4" stroke="#0a0a0a" stroke-width="2"/>
<line x1="389.90" y1="409.9" x2="389.90" y2="413.9" stroke="#0a0a0a" stroke-width="2"/>
<line x1="389.90" y1="744.4" x2="389.90" y2="740.4" stroke="#0a0a0a" stroke-width="2"/>
<text x="104.4" y="425.60" font-size="29.7" text-anchor="end" fill="#1c1c1c">0.06</text>
<text x="104.4" y="561.40" font-size="29.7" text-anchor="end" fill="#1c1c1c">0.03</text>
<text x="104.4" y="697.20" font-size="29.7" text-anchor="end" fill="#1c1c1c">0.00</text>
<text x="146.90" y="773.4" font-size="29.7" text-anchor="middle" fill="#1c1c1c">0</text>
<text x="471.70" y="773.4" font-size="29.7" text-anchor="middle" fill="#1c1c1c">2</text>
<path transform="translate(315.40,773.20)" d="M0 0 L0 -20.3 L-2.35 -20.3 C-2.9 -18.3 -4.9 -16.9 -8.0 -16.5 L-8.0 -14.4 C-5.7 -14.6 -3.7 -15.4 -2.35 -16.8 L-2.35 0 Z" fill="#1c1c1c"/>
<text x="289.4" y="808.7" font-size="30" font-style="italic" fill="#1c1c1c">K</text>
<text x="309.9" y="813.2" font-size="20" fill="#1c1c1c">0</text>
<g transform="translate(22.3,686) rotate(-90)"><text x="0" y="0" font-size="29.5" fill="#1c1c1c">Spin correlator, </text><path transform="translate(207.2,0)" d="M12.6 -15.0 C14.9 -16.4 15.4 -20.3 12.6 -21.3 C8.2 -22.3 2.9 -17.4 1.0 -11.6 C-0.4 -6.9 1.0 -1.4 5.0 -0.4 C9.0 0.5 12.6 -2.0 14.6 -5.2" fill="none" stroke="#1c1c1c" stroke-width="1.9" stroke-linecap="round"/></g>
<line x1="146.3" y1="434" x2="146.3" y2="493" stroke="#35652f" stroke-width="2.1"/>
<circle cx="146.3" cy="454.2" r="6.3" fill="#fff" stroke="#35652f" stroke-width="3.2"/>
<circle cx="146.3" cy="470.3" r="6.3" fill="#72a868" stroke="#35652f" stroke-width="3.2"/>
<line x1="286.8" y1="470" x2="286.8" y2="575.7" stroke="#35652f" stroke-width="2.1"/>
<circle cx="286.8" cy="495.4" r="6.3" fill="#72a868" stroke="#35652f" stroke-width="3.2"/>
<circle cx="286.8" cy="547.7" r="6.3" fill="#fff" stroke="#35652f" stroke-width="3.2"/>
<line x1="351.4" y1="518.2" x2="351.4" y2="562.8" stroke="#35652f" stroke-width="2.1"/>
<circle cx="351.4" cy="531.5" r="6.3" fill="#fff" stroke="#35652f" stroke-width="3.2"/>
<circle cx="351.4" cy="545.8" r="6.3" fill="#72a868" stroke="#35652f" stroke-width="3.2"/>
<line x1="405.8" y1="610.3" x2="405.8" y2="650.2" stroke="#35652f" stroke-width="2.1"/>
<circle cx="405.8" cy="625.8" r="6.3" fill="#72a868" stroke="#35652f" stroke-width="3.2"/>
<circle cx="405.8" cy="636.5" r="6.3" fill="#fff" stroke="#35652f" stroke-width="3.2"/>
<line x1="457.5" y1="654" x2="457.5" y2="720.8" stroke="#35652f" stroke-width="2.1"/>
<circle cx="457.5" cy="679.8" r="6.3" fill="#fff" stroke="#35652f" stroke-width="3.2"/>
<circle cx="457.5" cy="704.5" r="6.3" fill="#72a868" stroke="#35652f" stroke-width="3.2"/>
<text x="539.2" y="404" font-size="33" font-weight="bold" fill="#1c1c1c">c</text>
<rect x="657.3" y="647.3" width="390.70000000000005" height="96.50" fill="#ececed"/>
<line x1="657.3" y1="647.3" x2="1048" y2="647.3" stroke="#adadad" stroke-width="1.5"/>
<rect x="657.3" y="409.9" width="390.70000000000005" height="333.9" fill="none" stroke="#0a0a0a" stroke-width="2.2"/>
<line x1="657.3" y1="424.90" x2="665.3" y2="424.90" stroke="#0a0a0a" stroke-width="2"/>
<line x1="1048" y1="424.90" x2="1040" y2="424.90" stroke="#0a0a0a" stroke-width="2"/>
<line x1="657.3" y1="499.05" x2="665.3" y2="499.05" stroke="#0a0a0a" stroke-width="2"/>
<line x1="1048" y1="499.05" x2="1040" y2="499.05" stroke="#0a0a0a" stroke-width="2"/>
<line x1="657.3" y1="573.20" x2="665.3" y2="573.20" stroke="#0a0a0a" stroke-width="2"/>
<line x1="1048" y1="573.20" x2="1040" y2="573.20" stroke="#0a0a0a" stroke-width="2"/>
<line x1="657.3" y1="647.35" x2="665.3" y2="647.35" stroke="#0a0a0a" stroke-width="2"/>
<line x1="1048" y1="647.35" x2="1040" y2="647.35" stroke="#0a0a0a" stroke-width="2"/>
<line x1="657.3" y1="721.50" x2="665.3" y2="721.50" stroke="#0a0a0a" stroke-width="2"/>
<line x1="1048" y1="721.50" x2="1040" y2="721.50" stroke="#0a0a0a" stroke-width="2"/>
<line x1="657.3" y1="461.98" x2="661.3" y2="461.98" stroke="#0a0a0a" stroke-width="2"/>
<line x1="1048" y1="461.98" x2="1044" y2="461.98" stroke="#0a0a0a" stroke-width="2"/>
<line x1="657.3" y1="536.12" x2="661.3" y2="536.12" stroke="#0a0a0a" stroke-width="2"/>
<line x1="1048" y1="536.12" x2="1044" y2="536.12" stroke="#0a0a0a" stroke-width="2"/>
<line x1="657.3" y1="610.27" x2="661.3" y2="610.27" stroke="#0a0a0a" stroke-width="2"/>
<line x1="1048" y1="610.27" x2="1044" y2="610.27" stroke="#0a0a0a" stroke-width="2"/>
<line x1="657.3" y1="684.43" x2="661.3" y2="684.43" stroke="#0a0a0a" stroke-width="2"/>
<line x1="1048" y1="684.43" x2="1044" y2="684.43" stroke="#0a0a0a" stroke-width="2"/>
<line x1="694.30" y1="409.9" x2="694.30" y2="417.9" stroke="#0a0a0a" stroke-width="2"/>
<line x1="694.30" y1="743.8" x2="694.30" y2="735.8" stroke="#0a0a0a" stroke-width="2"/>
<line x1="841.80" y1="409.9" x2="841.80" y2="417.9" stroke="#0a0a0a" stroke-width="2"/>
<line x1="841.80" y1="743.8" x2="841.80" y2="735.8" stroke="#0a0a0a" stroke-width="2"/>
<line x1="989.30" y1="409.9" x2="989.30" y2="417.9" stroke="#0a0a0a" stroke-width="2"/>
<line x1="989.30" y1="743.8" x2="989.30" y2="735.8" stroke="#0a0a0a" stroke-width="2"/>
<line x1="768.05" y1="409.9" x2="768.05" y2="413.9" stroke="#0a0a0a" stroke-width="2"/>
<line x1="768.05" y1="743.8" x2="768.05" y2="739.8" stroke="#0a0a0a" stroke-width="2"/>
<line x1="915.55" y1="409.9" x2="915.55" y2="413.9" stroke="#0a0a0a" stroke-width="2"/>
<line x1="915.55" y1="743.8" x2="915.55" y2="739.8" stroke="#0a0a0a" stroke-width="2"/>
<text x="648.9" y="432.20" font-size="29.7" text-anchor="end" fill="#1c1c1c">0.03</text>
<text x="648.9" y="506.35" font-size="29.7" text-anchor="end" fill="#1c1c1c">0.02</text>
<text x="648.9" y="654.65" font-size="29.7" text-anchor="end" fill="#1c1c1c">0.00</text>
<text x="595.2" y="580.50" font-size="29.7" fill="#1c1c1c">0.0</text>
<path transform="translate(647.80,580.50)" d="M0 0 L0 -20.3 L-2.35 -20.3 C-2.9 -18.3 -4.9 -16.9 -8.0 -16.5 L-8.0 -14.4 C-5.7 -14.6 -3.7 -15.4 -2.35 -16.8 L-2.35 0 Z" fill="#1c1c1c"/>
<text x="595.2" y="728.80" font-size="29.7" fill="#1c1c1c">0.0</text>
<path transform="translate(647.80,728.80)" d="M0 0 L0 -20.3 L-2.35 -20.3 C-2.9 -18.3 -4.9 -16.9 -8.0 -16.5 L-8.0 -14.4 C-5.7 -14.6 -3.7 -15.4 -2.35 -16.8 L-2.35 0 Z" fill="#1c1c1c"/>
<rect x="578.9" y="721.60" width="14.4" height="1.8" fill="#1c1c1c"/>
<text x="694.90" y="773.4" font-size="29.7" text-anchor="middle" fill="#1c1c1c">0</text>
<text x="989.90" y="773.4" font-size="29.7" text-anchor="middle" fill="#1c1c1c">2</text>
<path transform="translate(848.00,773.20)" d="M0 0 L0 -20.3 L-2.35 -20.3 C-2.9 -18.3 -4.9 -16.9 -8.0 -16.5 L-8.0 -14.4 C-5.7 -14.6 -3.7 -15.4 -2.35 -16.8 L-2.35 0 Z" fill="#1c1c1c"/>
<text x="833.5" y="808.3" font-size="30" font-style="italic" fill="#1c1c1c">K</text>
<text x="853.4" y="812.8" font-size="20" fill="#1c1c1c">0</text>
<g transform="translate(574.1,686) rotate(-90)"><text x="0" y="0" font-size="29.5" fill="#1c1c1c">Spin correlator, </text><path transform="translate(207.2,0)" d="M12.6 -15.0 C14.9 -16.4 15.4 -20.3 12.6 -21.3 C8.2 -22.3 2.9 -17.4 1.0 -11.6 C-0.4 -6.9 1.0 -1.4 5.0 -0.4 C9.0 0.5 12.6 -2.0 14.6 -5.2" fill="none" stroke="#1c1c1c" stroke-width="1.9" stroke-linecap="round"/></g>
<line x1="694.3" y1="496" x2="694.3" y2="529.4" stroke="#6c1631" stroke-width="2.1"/>
<line x1="694.3" y1="460.5" x2="694.3" y2="509.9" stroke="#1d2a55" stroke-width="2.1"/>
<line x1="757.6" y1="493" x2="757.6" y2="555" stroke="#6c1631" stroke-width="2.1"/>
<line x1="757.6" y1="541.4" x2="757.6" y2="613.2" stroke="#1d2a55" stroke-width="2.1"/>
<line x1="821.0" y1="460.8" x2="821.0" y2="536" stroke="#6c1631" stroke-width="2.1"/>
<line x1="821.0" y1="535" x2="821.0" y2="549" stroke="#6c1631" stroke-width="2.1"/>
<line x1="821.0" y1="548.6" x2="821.0" y2="583" stroke="#1d2a55" stroke-width="2.1"/>
<line x1="821.0" y1="580.5" x2="821.0" y2="612.5" stroke="#1d2a55" stroke-width="2.1"/>
<line x1="884.2" y1="439.8" x2="884.2" y2="508" stroke="#6c1631" stroke-width="2.1"/>
<line x1="884.2" y1="540.6" x2="884.2" y2="579.6" stroke="#6c1631" stroke-width="2.1"/>
<line x1="884.7" y1="639.7" x2="884.7" y2="684.6" stroke="#1d2a55" stroke-width="2.1"/>
<line x1="884.7" y1="616.0" x2="884.7" y2="679.5" stroke="#1d2a55" stroke-width="2.1"/>
<line x1="947.5" y1="497.7" x2="947.5" y2="546.7" stroke="#6c1631" stroke-width="2.1"/>
<line x1="947.5" y1="515.3" x2="947.5" y2="621.5" stroke="#6c1631" stroke-width="2.1"/>
<line x1="948.1" y1="625" x2="948.1" y2="691.8" stroke="#1d2a55" stroke-width="2.1"/>
<line x1="948.1" y1="656.8" x2="948.1" y2="710.2" stroke="#1d2a55" stroke-width="2.1"/>
<line x1="1010.5" y1="508.9" x2="1010.5" y2="561.1" stroke="#6c1631" stroke-width="2.1"/>
<line x1="1011.3" y1="592.9" x2="1011.3" y2="670.2" stroke="#1d2a55" stroke-width="2.1"/>
<circle cx="694.3" cy="512.7" r="6.2" fill="#bb6a7c" stroke="#6c1631" stroke-width="3"/>
<circle cx="694.3" cy="485.2" r="6.2" fill="#84a1db" stroke="#1d2a55" stroke-width="3"/>
<circle cx="757.6" cy="524.0" r="6.2" fill="#bb6a7c" stroke="#6c1631" stroke-width="3"/>
<circle cx="757.6" cy="577.3" r="6.2" fill="#84a1db" stroke="#1d2a55" stroke-width="3"/>
<circle cx="821.0" cy="494.3" r="6.2" fill="#bb6a7c" stroke="#6c1631" stroke-width="3"/>
<circle cx="821.0" cy="542.2" r="6.2" fill="#fff" stroke="#6c1631" stroke-width="3"/>
<circle cx="821.0" cy="563.6" r="6.2" fill="#fff" stroke="#1d2a55" stroke-width="3"/>
<circle cx="821.0" cy="596.5" r="6.2" fill="#84a1db" stroke="#1d2a55" stroke-width="3"/>
<circle cx="884.2" cy="474.5" r="6.2" fill="#bb6a7c" stroke="#6c1631" stroke-width="3"/>
<circle cx="884.2" cy="560.4" r="6.2" fill="#fff" stroke="#6c1631" stroke-width="3"/>
<circle cx="884.7" cy="662.0" r="6.2" fill="#fff" stroke="#1d2a55" stroke-width="3"/>
<circle cx="884.7" cy="647.9" r="6.2" fill="#84a1db" stroke="#1d2a55" stroke-width="3"/>
<circle cx="947.5" cy="521.9" r="6.2" fill="#bb6a7c" stroke="#6c1631" stroke-width="3"/>
<circle cx="947.5" cy="569.3" r="6.2" fill="#fff" stroke="#6c1631" stroke-width="3"/>
<circle cx="948.1" cy="658.4" r="6.2" fill="#fff" stroke="#1d2a55" stroke-width="3"/>
<circle cx="948.1" cy="683.8" r="6.2" fill="#84a1db" stroke="#1d2a55" stroke-width="3"/>
<circle cx="1010.5" cy="535.1" r="6.2" fill="#bb6a7c" stroke="#6c1631" stroke-width="3"/>
<circle cx="1011.3" cy="632.0" r="6.2" fill="#84a1db" stroke="#1d2a55" stroke-width="3"/></svg>
</body></html>
